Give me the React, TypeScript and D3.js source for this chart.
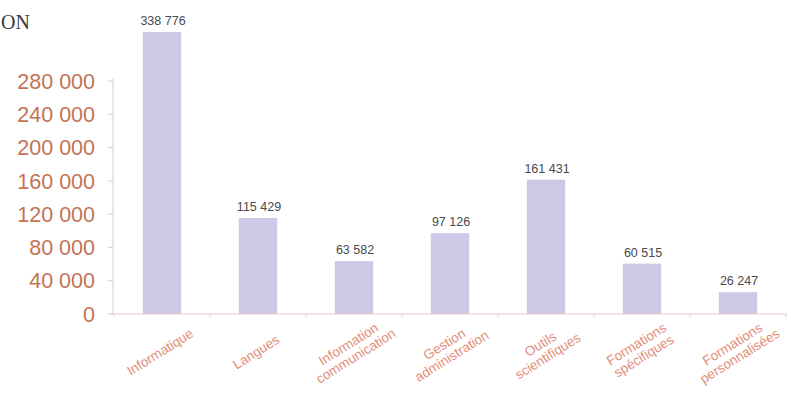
import { useMemo } from "react";
import { scaleBand, scaleLinear, range } from "d3";

const categories: string[][] = [
  ["Informatique"],
  ["Langues"],
  ["Information", "communication"],
  ["Gestion", "administration"],
  ["Outils", "scientifiques"],
  ["Formations", "spécifiques"],
  ["Formations", "personnalisées"],
];
const values = [338776, 115429, 63582, 97126, 161431, 60515, 26247];
const yTicks = [0, 40000, 80000, 120000, 160000, 200000, 240000, 280000];

const W = 802;
const H = 399;
const fmt = (v: number) =>
  String(v).replace(/\B(?=(\d{3})+(?!\d))/g, " ");

export default function App() {
  const x = useMemo(
    () =>
      scaleBand<number>()
        .domain(range(categories.length))
        .range([114, 786])
        .paddingInner(0.6)
        .paddingOuter(0.3),
    []
  );
  const y = useMemo(
    () => scaleLinear().domain([0, 280000]).range([314, 81]),
    []
  );

  const axisColor = "#dccfcf";

  return (
    <div style={{ position: "absolute", left: 0, top: 0 }}>
      <svg width={W} height={H} style={{ display: "block", background: "#fff" }}>
        <text
          x={1}
          y={29}
          fontFamily="Liberation Serif, DejaVu Serif, serif"
          fontSize={20}
          fill="#3a3a3a"
        >
          ON
        </text>

        {/* y axis */}
        <line x1={113} x2={113} y1={y(0)} y2={y(280000) - 3} stroke={axisColor} />
        {yTicks.map((t) => (
          <g key={t} transform={`translate(0,${y(t)})`}>
            <line x1={108} x2={113} stroke={axisColor} />
            <text
              x={95}
              dy="0.36em"
              textAnchor="end"
              fontFamily="Liberation Sans, Arial, sans-serif"
              fontSize={21.5}
              fill="#c47354"
            >
              {fmt(t)}
            </text>
          </g>
        ))}

        {/* bars */}
        {values.map((v, i) => (
          <g key={i}>
            <rect
              x={x(i)}
              y={y(v)}
              width={x.bandwidth()}
              height={y(0) - y(v)}
              fill="#cfc8e6"
            />
            <text
              x={(x(i) ?? 0) + x.bandwidth() / 2 + 1}
              y={y(v) - 7}
              textAnchor="middle"
              fontFamily="Liberation Sans, Arial, sans-serif"
              fontSize={12.5}
              fill="#4a4a4a"
            >
              {fmt(v)}
            </text>
          </g>
        ))}

        {/* x axis */}
        <line x1={110} x2={787} y1={y(0)} y2={y(0)} stroke="#e6c9c9" strokeWidth={1.2} />
        {range(categories.length + 1).map((i) => {
          const px = 114 + i * x.step();
          return (
            <line
              key={i}
              x1={px}
              x2={px}
              y1={y(0)}
              y2={y(0) + 3}
              stroke={axisColor}
            />
          );
        })}

        {/* category labels */}
        {categories.map((lines, i) => {
          const cx = (x(i) ?? 0) + x.bandwidth() / 2;
          const cy = lines.length > 1 ? 350 : 352;
          return (
            <g key={i} transform={`translate(${cx - 2},${cy}) rotate(-32)`}>
              {lines.map((ln, j) => (
                <text
                  key={j}
                  y={(j - (lines.length - 1) / 2) * 14}
                  dy="0.35em"
                  textAnchor="middle"
                  fontFamily="Liberation Sans, Arial, sans-serif"
                  fontSize={13.5}
                  fill="#df8e78"
                >
                  {ln}
                </text>
              ))}
            </g>
          );
        })}
      </svg>
    </div>
  );
}
